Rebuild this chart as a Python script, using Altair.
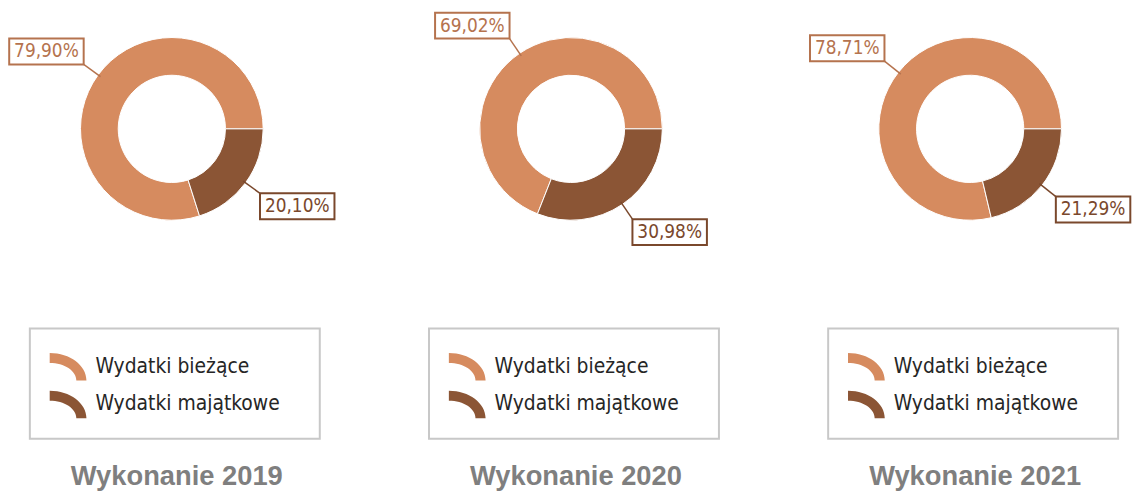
import math
import altair as alt
import pandas as pd

# ---- data -------------------------------------------------------------
years = ["2019", "2020", "2021"]
categories = ["Wydatki bieżące", "Wydatki majątkowe"]
current_pct = [79.90, 69.02, 78.71]   # Wydatki bieżące
capital_pct = [20.10, 30.98, 21.29]   # Wydatki majątkowe
stack_rank = [1, 0]                   # majątkowe drawn first from 3 o'clock
slice_colors = ["#D68B5F", "#8B5535"]
label_colors = ["#B5734E", "#7A482C"]
titles = ["Wykonanie " + y for y in years]

rows = []
for i, yr in enumerate(years):
    for j, (cat, vals) in enumerate(zip(categories, [current_pct, capital_pct])):
        rows.append({"year": yr, "cat": cat, "value": vals[i],
                     "rank": stack_rank[j], "lcol": label_colors[j]})
df = pd.DataFrame(rows)

# ---- layout constants -------------------------------------------------
CX, CY = 165, 120
R_OUT, R_IN = 92, 54
R1, R2 = 89, 110
BW, BH = 75, 26
FONT = "DejaVu Sans Condensed, DejaVu Sans, sans-serif"
SYMBOL = "M-1,-0.75 A2,1.5 0 0 1 1,0.75 L0.45,0.75 A1.45,0.95 0 0 0 -1,-0.2 Z"
PAD = " \u2800"


def panel(year, title, width):
    base = alt.Chart(df).transform_filter(alt.datum.year == year)

    arcs = base.mark_arc(outerRadius=R_OUT, innerRadius=R_IN,
                         stroke="white", strokeWidth=1).encode(
        theta=alt.Theta("value:Q", stack=True,
                        scale=alt.Scale(domain=[0, 100],
                                        range=[math.pi / 2, math.pi / 2 + 2 * math.pi])),
        color=alt.Color("cat:N",
                        scale=alt.Scale(domain=categories, range=slice_colors),
                        legend=alt.Legend(
                            orient="none", legendX=22, legendY=321, title=None,
                            symbolType=SYMBOL, symbolSize=1369,
                            symbolStrokeWidth=0, symbolOpacity=1,
                            labelFont=FONT, labelFontSize=21, labelColor="#262626",
                            labelOffset=9, labelLimit=400, rowPadding=5,
                            padding=20, strokeColor="#c8c8c8",
                            labelExpr="datum.label + '" + PAD + "'")),
        order=alt.Order("rank:Q"),
        x=alt.value(CX), y=alt.value(CY),
    )

    geo = base.transform_window(
        cum="sum(value)", sort=[alt.SortField("rank")], frame=[None, 0]
    ).transform_calculate(
        a="PI/2 + 2*PI*(datum.cum - datum.value/2)/100",
        label="replace(format(datum.value, '.2f'), '.', ',') + '%'",
    ).transform_calculate(
        sx=f"{CX} + {R1}*sin(datum.a)",
        sy=f"{CY} - {R1}*cos(datum.a)",
        ex=f"{CX} + {R2}*sin(datum.a)",
        ey=f"{CY} - {R2}*cos(datum.a)",
    ).transform_calculate(
        bx=f"datum.ex + (sin(datum.a) > 0 ? {BW/2} : {-BW/2})",
        by=f"datum.ey + (cos(datum.a) > 0 ? {-BH/2} : {BH/2})",
    ).transform_calculate(
        bx1=f"datum.bx - {BW/2}", bx2=f"datum.bx + {BW/2}",
        by1=f"datum.by - {BH/2}", by2=f"datum.by + {BH/2}",
    )

    rules = geo.mark_rule(strokeWidth=1.5).encode(
        x=alt.X("sx:Q", scale=None, axis=None),
        y=alt.Y("sy:Q", scale=None, axis=None),
        x2="ex:Q", y2="ey:Q",
        stroke=alt.Stroke("lcol:N", scale=None),
    )
    boxes = geo.mark_rect(fill="white", strokeWidth=2).encode(
        x=alt.X("bx1:Q", scale=None, axis=None), x2="bx2:Q",
        y=alt.Y("by1:Q", scale=None, axis=None), y2="by2:Q",
        stroke=alt.Stroke("lcol:N", scale=None),
    )
    texts = geo.mark_text(font=FONT, fontSize=19, align="center",
                          baseline="middle").encode(
        x=alt.X("bx:Q", scale=None, axis=None),
        y=alt.Y("by:Q", scale=None, axis=None),
        text="label:N",
        fill=alt.Fill("lcol:N", scale=None),
    )

    return alt.layer(arcs, rules, boxes, texts).properties(
        width=width, height=432,
        title=alt.Title(title, orient="bottom", anchor="start", align="center",
                        dx=170, frame="group", offset=24,
                        font="Liberation Sans", fontSize=27.5, fontWeight="bold",
                        color="#7f7f7f"),
    )


widths = [402, 402, 326]
chart = alt.hconcat(
    *[panel(y, t, w) for y, t, w in zip(years, titles, widths)],
    spacing=0, bounds="flush",
).resolve_scale(color="independent").resolve_legend(color="independent").properties(
    padding=0
).configure_view(stroke=None).configure_legend(strokeWidth=2)

chart.save("out.html", embed_options={"renderer": "svg", "actions": False})
